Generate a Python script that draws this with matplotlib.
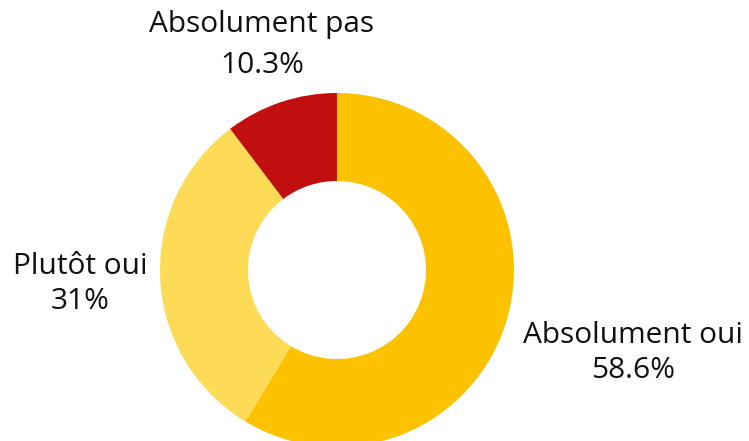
import matplotlib.pyplot as plt

# DATA
categories = ["Absolument oui", "Plutôt oui", "Absolument pas"]
values = [58.6, 31, 10.3]
value_labels = ["58.6%", "31%", "10.3%"]

# STYLE
colors = ["#FCC200", "#FEDB57", "#C10F0F"]
label_pos = [(633, 88), (80, 157), (262, 396)]
line_gaps = [1.3, 1.25, 1.55]

plt.rcParams["font.family"] = ["Open Sans", "DejaVu Sans"]

fig = plt.figure(figsize=(7.49, 4.41), dpi=100)
ax = fig.add_axes([0, 0, 1, 1])
ax.set_xlim(0, 749)
ax.set_ylim(0, 441)
ax.set_aspect("equal")
ax.axis("off")

ax.pie(values, colors=colors, startangle=90, counterclock=False,
       center=(337, 171), radius=177,
       wedgeprops=dict(width=88, linewidth=0))
ax.set_xlim(0, 749)
ax.set_ylim(0, 441)

for cat, lab, (x, y), gap in zip(categories, value_labels, label_pos, line_gaps):
    ax.text(x, y, cat + "\n" + lab, ha="center", va="center",
            fontsize=21.5, color="#111111", linespacing=gap)

fig.savefig("out.png", dpi=100)
